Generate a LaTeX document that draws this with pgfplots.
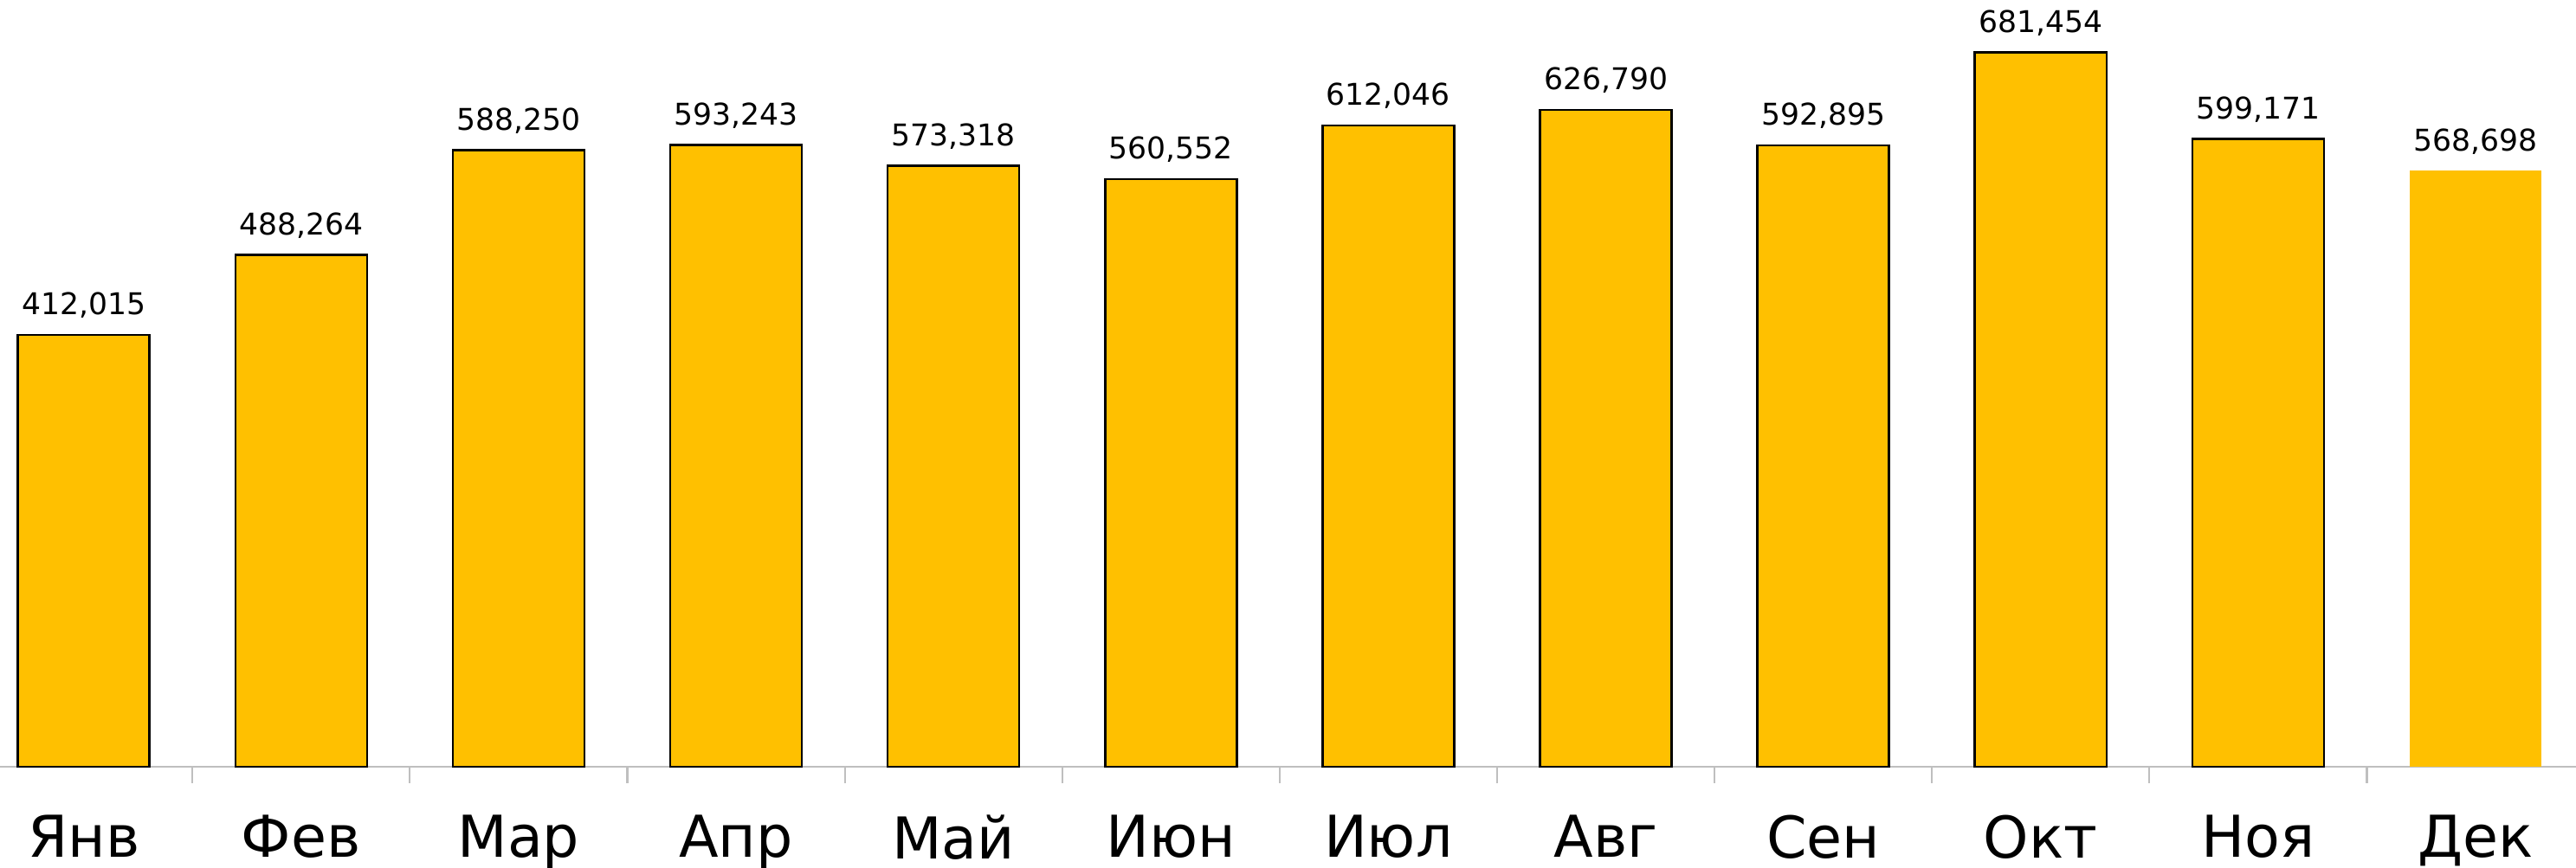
\documentclass[border=0pt]{standalone}
\usepackage{pgfplots}
\pgfplotsset{compat=1.18}
\usepackage{fontspec}
\setmainfont{DejaVu Sans}
\definecolor{baryellow}{HTML}{FFC000}
\definecolor{axgray}{HTML}{BFBFBF}
\begin{document}
\begin{tikzpicture}
\begin{axis}[
  scale only axis,
  width=714pt, height=212.6pt,
  xmin=-0.385, xmax=11.462,
  ymin=0, ymax=731600,
  axis y line=none,
  axis x line*=bottom,
  x axis line style={draw=axgray, line width=0.5pt, -},
  xtick={0,...,11},
  xticklabels={Янв,Фев,Мар,Апр,Май,Июн,Июл,Авг,Сен,Окт,Ноя,Дек},
  minor xtick={0.5,1.5,...,10.5},
  major tick length=0pt,
  minor tick length=4.5pt,
  tick style={draw=axgray, line width=0.5pt},
  minor tick style={draw=axgray, line width=0.5pt},
  tick align=outside,
  xticklabel style={font=\fontsize{16}{18}\selectfont, yshift=-10pt},
  ybar, bar width=36.5pt,
  nodes near coords,
  every node near coord/.append style={font=\fontsize{8.3}{10}\selectfont, yshift=1pt, /pgf/number format/.cd, fixed, 1000 sep={,}, assume math mode=true},
  /pgf/number format/assume math mode=true,
  clip=false,
]
\addplot[fill=baryellow, draw=black, line width=0.6pt, bar shift=0pt] coordinates {
 (0,412015) (1,488264) (2,588250) (3,593243) (4,573318) (5,560552)
 (6,612046) (7,626790) (8,592895) (9,681454) (10,599171)};
\addplot[fill=baryellow, draw=none, bar shift=0pt] coordinates {(11,568698)};
\end{axis}
\pgfresetboundingbox
\path (current axis.south west) ++(0,-28.1pt) rectangle (current axis.north east);
\end{tikzpicture}
\end{document}
